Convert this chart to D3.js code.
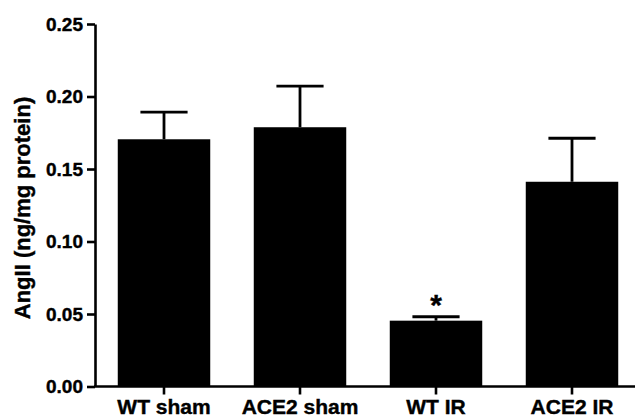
<!DOCTYPE html>
<html>
<head>
<meta charset="utf-8">
<script src="https://cdn.jsdelivr.net/npm/d3@7"></script>
<style>
  body { margin: 0; background: #fff; }
  svg text { font-family: "Liberation Sans", Arial, sans-serif; font-weight: bold; fill: #000; stroke: #000; stroke-width: 0.4px; }
</style>
</head>
<body>
<div id="chart"></div>
<script>
// data
var groups = ["WT sham", "ACE2 sham", "WT IR", "ACE2 IR"];
var means = [0.1705, 0.1788, 0.0454, 0.1412];
var sems = [0.0187, 0.0284, 0.0027, 0.0300];
var marks = ["", "", "*", ""];
var yTicks = [0.00, 0.05, 0.10, 0.15, 0.20, 0.25];

var svgWidth = 635;
var svgHeight = 419;

var svg = d3.select("#chart")
  .append("svg")
  .attr("width", svgWidth)
  .attr("height", svgHeight);

// scales
var xScale = d3.scaleBand()
  .domain(groups)
  .range([96, 640])
  .paddingInner(0.32)
  .paddingOuter(0.16);

var yScale = d3.scaleLinear()
  .domain([0, 0.25])
  .range([386.5, 24]);

var data = groups.map(function(g, i) {
  return { name: g, mean: means[i], sem: sems[i], mark: marks[i] };
});

// bars
svg.selectAll("rect.bar")
  .data(data)
  .enter()
  .append("rect")
  .attr("class", "bar")
  .attr("x", d => xScale(d.name))
  .attr("width", xScale.bandwidth())
  .attr("y", d => yScale(d.mean))
  .attr("height", d => yScale(0) - yScale(d.mean))
  .attr("fill", "#000");

// error bars (upper only)
var capHalf = xScale.bandwidth() * 0.255;
var err = svg.selectAll("g.err")
  .data(data)
  .enter()
  .append("g")
  .attr("class", "err")
  .attr("stroke", "#000")
  .attr("stroke-width", 2.8);

err.append("line")
  .attr("x1", d => xScale(d.name) + xScale.bandwidth() / 2)
  .attr("x2", d => xScale(d.name) + xScale.bandwidth() / 2)
  .attr("y1", d => yScale(d.mean))
  .attr("y2", d => yScale(d.mean + d.sem));

err.append("line")
  .attr("x1", d => xScale(d.name) + xScale.bandwidth() / 2 - capHalf)
  .attr("x2", d => xScale(d.name) + xScale.bandwidth() / 2 + capHalf)
  .attr("y1", d => yScale(d.mean + d.sem))
  .attr("y2", d => yScale(d.mean + d.sem));

// significance marks
svg.selectAll("text.mark")
  .data(data.filter(d => d.mark))
  .enter()
  .append("text")
  .attr("class", "mark")
  .attr("x", d => xScale(d.name) + xScale.bandwidth() / 2)
  .attr("y", d => yScale(d.mean + d.sem) - 2)
  .attr("text-anchor", "middle")
  .style("font-size", "30px")
  .text(d => d.mark);

// y axis
var leftAxis = d3.axisLeft(yScale)
  .tickValues(yTicks)
  .tickFormat(d3.format(".2f"))
  .tickSize(8)
  .tickSizeOuter(0)
  .tickPadding(4);

var yAxisG = svg.append("g")
  .attr("transform", "translate(95, 0)")
  .call(leftAxis);

yAxisG.selectAll("path, line")
  .attr("stroke", "#000")
  .attr("stroke-width", 2.6);
yAxisG.selectAll("text")
  .style("font-size", "19px")
  .style("font-family", "Liberation Sans, Arial, sans-serif")
  .style("font-weight", "bold");

// x axis
var bottomAxis = d3.axisBottom(xScale)
  .tickSize(8)
  .tickSizeOuter(0)
  .tickPadding(5);

var xAxisG = svg.append("g")
  .attr("transform", "translate(0, 386.5)")
  .call(bottomAxis);

xAxisG.select("path.domain")
  .attr("d", "M94,0H640");
xAxisG.selectAll("path, line")
  .attr("stroke", "#000")
  .attr("stroke-width", 2.6);
xAxisG.selectAll("text")
  .style("font-size", "21px")
  .style("font-family", "Liberation Sans, Arial, sans-serif")
  .style("font-weight", "bold");

// y axis title
svg.append("text")
  .attr("transform", "translate(30, 208) rotate(-90)")
  .attr("text-anchor", "middle")
  .style("font-size", "22px")
  .text("AngII (ng/mg protein)");
</script>
</body>
</html>
